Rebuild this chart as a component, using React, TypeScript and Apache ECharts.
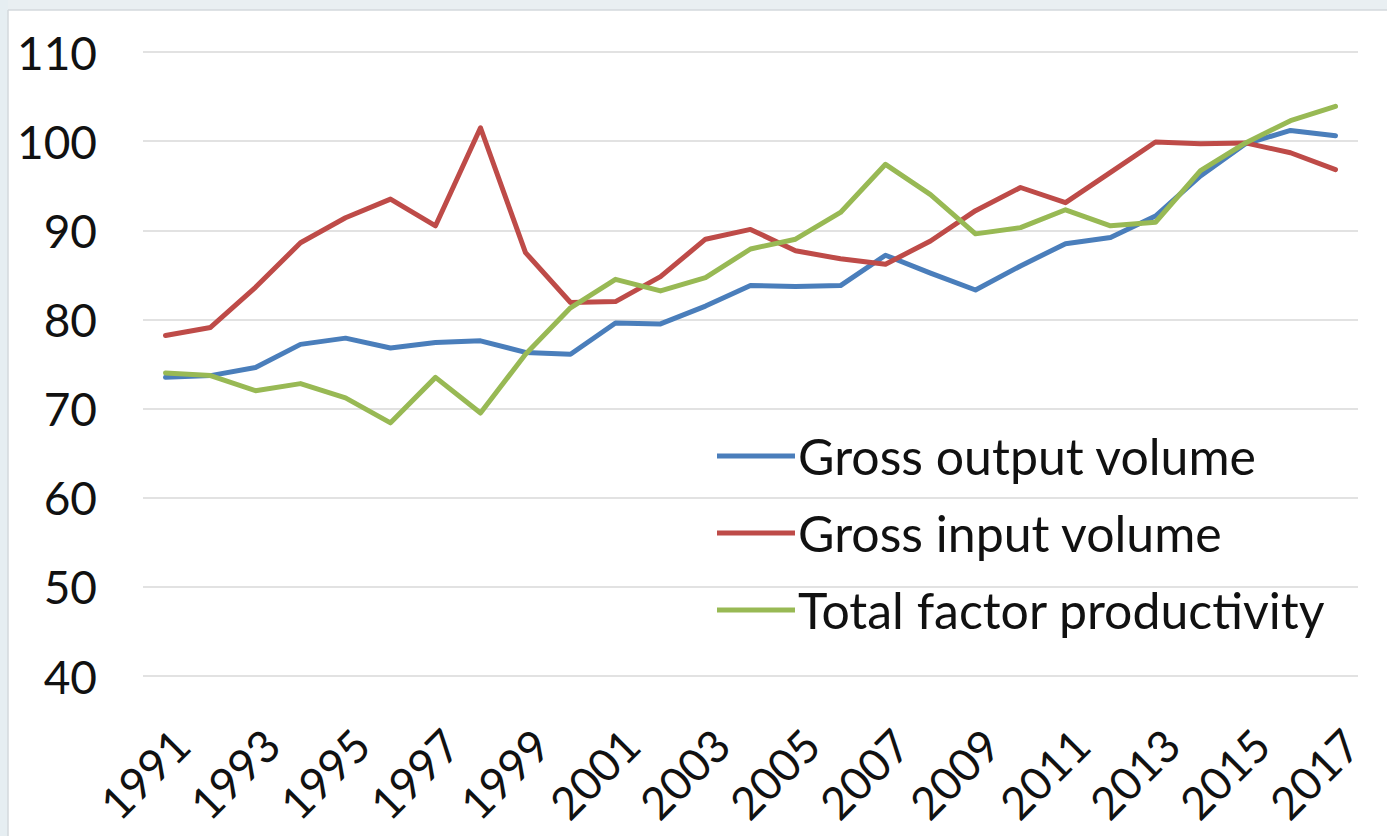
import React, { useEffect, useRef } from "react";
import * as echarts from "echarts";

const years: string[] = [
  "1991", "1992", "1993", "1994", "1995", "1996", "1997", "1998", "1999",
  "2000", "2001", "2002", "2003", "2004", "2005", "2006", "2007", "2008",
  "2009", "2010", "2011", "2012", "2013", "2014", "2015", "2016", "2017",
];

const grossOutput: number[] = [
  73.5, 73.7, 74.6, 77.2, 77.9, 76.8, 77.4, 77.6, 76.3, 76.1, 79.6, 79.5, 81.5,
  83.8, 83.7, 83.8, 87.2, 85.2, 83.3, 86.0, 88.5, 89.2, 91.6, 96.1, 99.7, 101.2, 100.6,
];

const grossInput: number[] = [
  78.2, 79.1, 83.6, 88.6, 91.4, 93.5, 90.5, 101.5, 87.5, 81.9, 82.0, 84.8, 89.0,
  90.1, 87.7, 86.8, 86.2, 88.8, 92.2, 94.8, 93.1, 96.5, 99.9, 99.7, 99.8, 98.7, 96.8,
];

const tfp: number[] = [
  74.0, 73.7, 72.0, 72.8, 71.2, 68.4, 73.5, 69.5, 76.1, 81.3, 84.5, 83.2, 84.7,
  87.9, 89.0, 92.0, 97.4, 94.0, 89.6, 90.3, 92.3, 90.5, 90.9, 96.7, 99.8, 102.3, 103.9,
];

const seriesNames: string[] = [
  "Gross output volume",
  "Gross input volume",
  "Total factor productivity",
];

const colors: string[] = ["#4a7ebb", "#be4b48", "#98b954"];

export default function App() {
  const ref = useRef<HTMLDivElement>(null);

  useEffect(() => {
    if (!ref.current) return;
    const chart = echarts.init(ref.current, undefined, { renderer: "svg" });
    const font = "Lato, 'Noto Sans', sans-serif";
    const dataSets = [grossOutput, grossInput, tfp];
    chart.setOption({
      animation: false,
      backgroundColor: "#ffffff",
      color: colors,
      graphic: [
        {
          type: "rect",
          shape: { x: 0, y: 0, width: 1387, height: 10 },
          style: { fill: "#e9eff2" },
          z: -10,
        },
        {
          type: "rect",
          shape: { x: 0, y: 0, width: 8, height: 836 },
          style: { fill: "#e6eef2" },
          z: -10,
        },
        {
          type: "line",
          shape: { x1: 8, y1: 10, x2: 1387, y2: 10 },
          style: { stroke: "#d3d8dc", lineWidth: 1.5 },
          z: -9,
        },
        {
          type: "line",
          shape: { x1: 8, y1: 10, x2: 8, y2: 836 },
          style: { stroke: "#d3d8dc", lineWidth: 1.5 },
          z: -9,
        },
      ],
      grid: { left: 143, right: 29, top: 52, bottom: 160, containLabel: false },
      legend: {
        orient: "vertical",
        left: 712,
        top: 426,
        icon: "rect",
        itemWidth: 78,
        itemHeight: 5,
        itemGap: 27,
        data: seriesNames,
        textStyle: {
          fontFamily: font,
          fontSize: 50,
          color: "#111111",
          padding: [0, 0, 0, -2],
          lineHeight: 50,
        },
      },
      xAxis: {
        type: "category",
        data: years,
        boundaryGap: true,
        axisLine: { show: false },
        axisTick: { show: false },
        axisLabel: {
          interval: 1,
          rotate: 45,
          align: "right",
          verticalAlign: "top",
          margin: 45,
          fontFamily: font,
          fontSize: 45,
          color: "#111111",
        },
      },
      yAxis: {
        type: "value",
        min: 40,
        max: 110,
        interval: 10,
        axisLine: { show: false },
        axisTick: { show: false },
        axisLabel: {
          margin: 46,
          fontFamily: font,
          fontSize: 46,
          color: "#111111",
        },
        splitLine: { lineStyle: { color: "#d9d9d9", width: 1.5 } },
      },
      series: dataSets.map((d, i) => ({
        name: seriesNames[i],
        type: "line",
        data: d,
        showSymbol: false,
        symbol: "none",
        lineStyle: { width: 5, color: colors[i], join: "round", cap: "round" },
        itemStyle: { color: colors[i] },
      })),
    });
    return () => chart.dispose();
  }, []);

  return (
    <div
      ref={ref}
      style={{ position: "absolute", left: 0, top: 0, width: 1387, height: 836 }}
    />
  );
}
